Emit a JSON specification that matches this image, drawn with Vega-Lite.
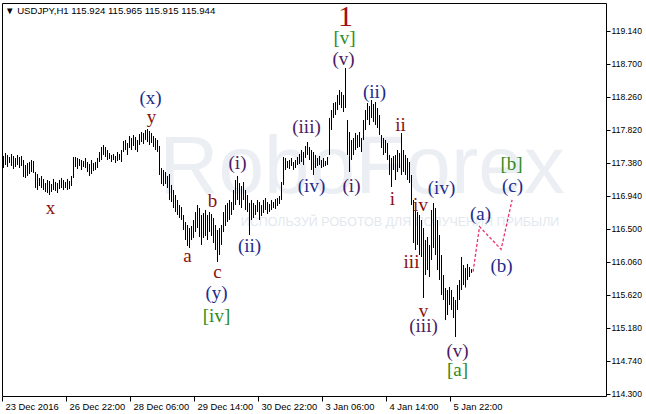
{
"$schema": "https://vega.github.io/schema/vega-lite/v6.json",
"width": 604, "height": 393,
"autosize": {"type": "none"},
"padding": {"left": 2, "top": 3, "right": 40, "bottom": 18},
"background": "white",
"config": {"view": {"stroke": "black", "strokeWidth": 1}},
"title": {"text": "▼ USDJPY,H1  115.924 115.965 115.915 115.944", "anchor": "start", "frame": "group", "orient": "top", "offset": -14, "baseline": "top", "dx": 3, "font": "Liberation Sans", "fontSize": 9.6, "fontWeight": "normal", "color": "black"},
"datasets": {
"bars": [
{"i":0,"h":117.473,"l":117.313},{"i":1,"h":117.513,"l":117.353},{"i":2,"h":117.487,"l":117.327},{"i":3,"h":117.460,"l":117.380},{"i":4,"h":117.500,"l":117.340},{"i":5,"h":117.473,"l":117.300},{"i":6,"h":117.447,"l":117.327},{"i":7,"h":117.487,"l":117.353},{"i":8,"h":117.460,"l":117.313},{"i":9,"h":117.473,"l":117.340},
{"i":10,"h":117.420,"l":117.193},{"i":11,"h":117.353,"l":117.180},{"i":12,"h":117.380,"l":117.207},{"i":13,"h":117.393,"l":117.233},{"i":14,"h":117.420,"l":117.260},{"i":15,"h":117.407,"l":117.247},{"i":16,"h":117.260,"l":117.047},{"i":17,"h":117.233,"l":117.020},{"i":18,"h":117.180,"l":117.073},{"i":19,"h":117.207,"l":117.047},
{"i":20,"h":117.167,"l":117.020},{"i":21,"h":117.113,"l":116.993},{"i":22,"h":117.153,"l":116.980},{"i":23,"h":117.140,"l":116.953},{"i":24,"h":117.100,"l":116.993},{"i":25,"h":117.167,"l":117.020},{"i":26,"h":117.127,"l":117.007},{"i":27,"h":117.113,"l":116.980},{"i":28,"h":117.153,"l":117.033},{"i":29,"h":117.180,"l":117.047},
{"i":30,"h":117.153,"l":117.020},{"i":31,"h":117.127,"l":117.047},{"i":32,"h":117.167,"l":117.020},{"i":33,"h":117.140,"l":117.033},{"i":34,"h":117.207,"l":117.073},{"i":35,"h":117.460,"l":117.180},{"i":36,"h":117.460,"l":117.327},{"i":37,"h":117.447,"l":117.300},{"i":38,"h":117.433,"l":117.340},{"i":39,"h":117.420,"l":117.287},
{"i":40,"h":117.407,"l":117.327},{"i":41,"h":117.447,"l":117.313},{"i":42,"h":117.393,"l":117.260},{"i":43,"h":117.367,"l":117.207},{"i":44,"h":117.420,"l":117.233},{"i":45,"h":117.380,"l":117.273},{"i":46,"h":117.393,"l":117.287},{"i":47,"h":117.447,"l":117.313},{"i":48,"h":117.527,"l":117.393},{"i":49,"h":117.593,"l":117.420},
{"i":50,"h":117.620,"l":117.487},{"i":51,"h":117.593,"l":117.460},{"i":52,"h":117.553,"l":117.420},{"i":53,"h":117.513,"l":117.433},{"i":54,"h":117.487,"l":117.393},{"i":55,"h":117.500,"l":117.420},{"i":56,"h":117.473,"l":117.380},{"i":57,"h":117.527,"l":117.407},{"i":58,"h":117.500,"l":117.420},{"i":59,"h":117.553,"l":117.393},
{"i":60,"h":117.673,"l":117.527},{"i":61,"h":117.687,"l":117.553},{"i":62,"h":117.647,"l":117.487},{"i":63,"h":117.740,"l":117.580},{"i":64,"h":117.713,"l":117.553},{"i":65,"h":117.753,"l":117.607},{"i":66,"h":117.727,"l":117.553},{"i":67,"h":117.687,"l":117.527},{"i":68,"h":117.767,"l":117.620},{"i":69,"h":117.793,"l":117.660},
{"i":70,"h":117.780,"l":117.633},{"i":71,"h":117.820,"l":117.687},{"i":72,"h":117.833,"l":117.660},{"i":73,"h":117.807,"l":117.620},{"i":74,"h":117.780,"l":117.647},{"i":75,"h":117.740,"l":117.593},{"i":76,"h":117.713,"l":117.553},{"i":77,"h":117.687,"l":117.527},{"i":78,"h":117.607,"l":117.220},{"i":79,"h":117.313,"l":117.100},
{"i":80,"h":117.287,"l":117.073},{"i":81,"h":117.260,"l":117.100},{"i":82,"h":117.207,"l":117.047},{"i":83,"h":117.233,"l":116.887},{"i":84,"h":117.087,"l":116.860},{"i":85,"h":117.020,"l":116.780},{"i":86,"h":116.953,"l":116.727},{"i":87,"h":116.887,"l":116.687},{"i":88,"h":116.820,"l":116.647},{"i":89,"h":116.793,"l":116.620},
{"i":90,"h":116.687,"l":116.487},{"i":91,"h":116.593,"l":116.353},{"i":92,"h":116.553,"l":116.273},{"i":93,"h":116.513,"l":116.247},{"i":94,"h":116.540,"l":116.353},{"i":95,"h":116.620,"l":116.380},{"i":96,"h":116.727,"l":116.460},{"i":97,"h":116.820,"l":116.513},{"i":98,"h":116.780,"l":116.393},{"i":99,"h":116.687,"l":116.287},
{"i":100,"h":116.713,"l":116.380},{"i":101,"h":116.753,"l":116.407},{"i":102,"h":116.687,"l":116.353},{"i":103,"h":116.727,"l":116.460},{"i":104,"h":116.700,"l":116.407},{"i":105,"h":116.647,"l":116.313},{"i":106,"h":116.553,"l":116.220},{"i":107,"h":116.487,"l":116.060},{"i":108,"h":116.513,"l":116.153},{"i":109,"h":116.553,"l":116.287},
{"i":110,"h":116.727,"l":116.460},{"i":111,"h":116.820,"l":116.540},{"i":112,"h":116.847,"l":116.593},{"i":113,"h":116.887,"l":116.620},{"i":114,"h":116.860,"l":116.687},{"i":115,"h":117.020,"l":116.753},{"i":116,"h":117.153,"l":116.820},{"i":117,"h":117.207,"l":116.887},{"i":118,"h":117.113,"l":116.820},{"i":119,"h":117.073,"l":116.780},
{"i":120,"h":117.127,"l":116.887},{"i":121,"h":117.020,"l":116.753},{"i":122,"h":116.953,"l":116.727},{"i":123,"h":116.847,"l":116.420},{"i":124,"h":116.887,"l":116.620},{"i":125,"h":116.847,"l":116.647},{"i":126,"h":116.820,"l":116.687},{"i":127,"h":116.887,"l":116.727},{"i":128,"h":116.860,"l":116.620},{"i":129,"h":116.820,"l":116.673},
{"i":130,"h":116.887,"l":116.713},{"i":131,"h":116.913,"l":116.753},{"i":132,"h":116.860,"l":116.700},{"i":133,"h":116.833,"l":116.727},{"i":134,"h":116.887,"l":116.753},{"i":135,"h":116.860,"l":116.780},{"i":136,"h":116.900,"l":116.767},{"i":137,"h":116.913,"l":116.807},{"i":138,"h":116.940,"l":116.833},{"i":139,"h":117.127,"l":116.887},
{"i":140,"h":117.460,"l":117.087},{"i":141,"h":117.447,"l":117.287},{"i":142,"h":117.407,"l":117.313},{"i":143,"h":117.420,"l":117.300},{"i":144,"h":117.447,"l":117.340},{"i":145,"h":117.393,"l":117.287},{"i":146,"h":117.420,"l":117.313},{"i":147,"h":117.460,"l":117.353},{"i":148,"h":117.500,"l":117.367},{"i":149,"h":117.553,"l":117.393},
{"i":150,"h":117.527,"l":117.353},{"i":151,"h":117.607,"l":117.447},{"i":152,"h":117.660,"l":117.487},{"i":153,"h":117.593,"l":117.420},{"i":154,"h":117.553,"l":117.287},{"i":155,"h":117.527,"l":117.220},{"i":156,"h":117.487,"l":117.313},{"i":157,"h":117.447,"l":117.340},{"i":158,"h":117.473,"l":117.353},{"i":159,"h":117.420,"l":117.313},
{"i":160,"h":117.447,"l":117.327},{"i":161,"h":117.407,"l":117.340},{"i":162,"h":117.460,"l":117.353},{"i":163,"h":117.980,"l":117.487},{"i":164,"h":118.087,"l":117.820},{"i":165,"h":118.180,"l":117.980},{"i":166,"h":118.193,"l":118.020},{"i":167,"h":118.287,"l":118.087},{"i":168,"h":118.353,"l":118.153},{"i":169,"h":118.327,"l":118.113},
{"i":170,"h":118.287,"l":118.060},{"i":171,"h":118.647,"l":118.113},{"i":172,"h":117.953,"l":117.487},{"i":173,"h":117.793,"l":117.260},{"i":174,"h":117.687,"l":117.420},{"i":175,"h":117.713,"l":117.487},{"i":176,"h":117.780,"l":117.553},{"i":177,"h":117.753,"l":117.580},{"i":178,"h":117.793,"l":117.593},{"i":179,"h":117.713,"l":117.527},
{"i":180,"h":117.953,"l":117.687},{"i":181,"h":118.087,"l":117.820},{"i":182,"h":118.180,"l":117.953},{"i":183,"h":118.140,"l":117.887},{"i":184,"h":118.220,"l":117.980},{"i":185,"h":118.167,"l":117.927},{"i":186,"h":118.193,"l":117.887},{"i":187,"h":118.113,"l":117.847},{"i":188,"h":118.020,"l":117.753},{"i":189,"h":117.753,"l":117.580},
{"i":190,"h":117.713,"l":117.487},{"i":191,"h":117.687,"l":117.513},{"i":192,"h":117.647,"l":117.420},{"i":193,"h":117.487,"l":117.220},{"i":194,"h":117.447,"l":117.060},{"i":195,"h":117.473,"l":117.287},{"i":196,"h":117.487,"l":117.153},{"i":197,"h":117.553,"l":117.260},{"i":198,"h":117.513,"l":117.313},{"i":199,"h":117.780,"l":117.220},
{"i":200,"h":117.553,"l":117.260},{"i":201,"h":117.487,"l":117.220},{"i":202,"h":117.447,"l":117.153},{"i":203,"h":117.393,"l":117.113},{"i":204,"h":117.220,"l":116.820},{"i":205,"h":116.887,"l":116.313},{"i":206,"h":116.753,"l":116.220},{"i":207,"h":116.727,"l":116.287},{"i":208,"h":116.687,"l":116.153},{"i":209,"h":116.620,"l":116.127},
{"i":210,"h":116.513,"l":115.580},{"i":211,"h":116.353,"l":115.887},{"i":212,"h":116.393,"l":115.953},{"i":213,"h":116.287,"l":115.860},{"i":214,"h":116.753,"l":116.087},{"i":215,"h":116.847,"l":116.247},{"i":216,"h":116.780,"l":116.153},{"i":217,"h":116.620,"l":115.953},{"i":218,"h":116.420,"l":115.820},{"i":219,"h":116.153,"l":115.620},
{"i":220,"h":115.887,"l":115.553},{"i":221,"h":115.713,"l":115.287},{"i":222,"h":115.687,"l":115.353},{"i":223,"h":115.727,"l":115.487},{"i":224,"h":115.687,"l":115.420},{"i":225,"h":115.593,"l":115.313},{"i":226,"h":115.553,"l":115.060},{"i":227,"h":115.753,"l":115.420},{"i":228,"h":115.820,"l":115.553},{"i":229,"h":116.127,"l":115.687},
{"i":230,"h":116.020,"l":115.753},{"i":231,"h":115.980,"l":115.720},{"i":232,"h":116.033,"l":115.820},{"i":233,"h":115.993,"l":115.860},{"i":234,"h":115.965,"l":115.915}
],
"labels": [
{"t":"x","i":23.5,"p":116.78,"k":"red"},
{"t":"(x)","i":73.5,"p":118.247,"k":"blue"},
{"t":"y","i":74,"p":117.993,"k":"red"},
{"t":"a","i":92,"p":116.14,"k":"red"},
{"t":"b","i":104.5,"p":116.873,"k":"red"},
{"t":"c","i":107,"p":115.927,"k":"red"},
{"t":"(y)","i":106.5,"p":115.647,"k":"blue"},
{"t":"[iv]","i":106.5,"p":115.34,"k":"green"},
{"t":"(i)","i":117,"p":117.38,"k":"purple"},
{"t":"(ii)","i":123,"p":116.273,"k":"blue"},
{"t":"(iii)","i":151.5,"p":117.86,"k":"purple"},
{"t":"(iv)","i":154,"p":117.073,"k":"blue"},
{"t":"[v]","i":170.5,"p":119.047,"k":"green"},
{"t":"(v)","i":170,"p":118.767,"k":"purple"},
{"t":"(i)","i":174,"p":117.073,"k":"purple"},
{"t":"(ii)","i":185.5,"p":118.327,"k":"blue"},
{"t":"ii","i":198.5,"p":117.887,"k":"red"},
{"t":"i","i":194.5,"p":116.9,"k":"red"},
{"t":"iv","i":208.5,"p":116.82,"k":"red"},
{"t":"(iv)","i":219,"p":117.047,"k":"blue"},
{"t":"iii","i":204,"p":116.06,"k":"red"},
{"t":"v","i":210,"p":115.407,"k":"red"},
{"t":"(iii)","i":210,"p":115.207,"k":"purple"},
{"t":"(v)","i":227,"p":114.873,"k":"purple"},
{"t":"[a]","i":227,"p":114.62,"k":"green"},
{"t":"(a)","i":238.5,"p":116.7,"k":"blue"},
{"t":"(b)","i":249,"p":116.007,"k":"blue"},
{"t":"[b]","i":254,"p":117.367,"k":"green"},
{"t":"(c)","i":254.5,"p":117.073,"k":"blue"}
],
"big": [{"t":"1","i":171,"p":119.327}],
"path": [
{"o":0,"i":234.8,"p":115.931},
{"o":1,"i":238,"p":116.531},
{"o":2,"i":248.8,"p":116.229},
{"o":3,"i":254.3,"p":116.887}
],
"wm": [
{"t":"RoboForex","i":179.25,"p":117.313,"s":"big"},
{"t":"ИСПОЛЬЗУЙ РОБОТОВ ДЛЯ ПОЛУЧЕНИЯ ПРИБЫЛИ","i":198.25,"p":116.593,"s":"small"}
],
"last": [{"p":115.944}]
},
"encoding": {
"x": {"field": "i", "type": "quantitative", "scale": {"domain": [-0.75, 301.25], "nice": false, "zero": false},
  "axis": {"orient": "bottom", "title": null, "grid": false, "domain": false, "values": [-0.75, 31.25, 63.25, 95.25, 127.25, 159.25, 191.25, 223.25],
   "labelExpr": "datum.value < 10 ? '23 Dec 2016' : datum.value < 40 ? '26 Dec 22:00' : datum.value < 70 ? '28 Dec 06:00' : datum.value < 100 ? '29 Dec 14:00' : datum.value < 130 ? '30 Dec 22:00' : datum.value < 170 ? '3 Jan 06:00' : datum.value < 200 ? '4 Jan 14:00' : '5 Jan 22:00'",
   "labelAlign": "left", "labelOffset": 3, "labelPadding": 1, "tickSize": 5, "tickColor": "black", "labelColor": "black", "labelFont": "Liberation Sans", "labelFontSize": 9.4, "labelBaseline": "top"}},
"y": {"field": "p", "type": "quantitative", "scale": {"domain": [114.2733, 119.5133], "nice": false, "zero": false},
  "axis": {"orient": "right", "title": null, "grid": false, "domain": false, "values": [114.3, 114.74, 115.18, 115.62, 116.06, 116.5, 116.94, 117.38, 117.82, 118.26, 118.7, 119.14],
   "format": ".3f", "tickSize": 4, "tickColor": "black", "labelColor": "black", "labelFont": "Liberation Sans", "labelFontSize": 8.6, "labelPadding": 1}}
},
"layer": [
{"data": {"name": "wm"}, "transform": [{"filter": "datum.s == 'big'"}], "mark": {"type": "text", "font": "Liberation Sans", "fontSize": 82, "color": "#ebeff4", "align": "center", "baseline": "middle", "clip": false}, "encoding": {"text": {"field": "t"}}},
{"data": {"name": "wm"}, "transform": [{"filter": "datum.s == 'small'"}], "mark": {"type": "text", "font": "Liberation Sans", "fontSize": 12.5, "color": "#e3e8ee", "align": "center", "baseline": "middle", "clip": false}, "encoding": {"text": {"field": "t"}}},
{"data": {"name": "bars"}, "mark": {"type": "rule", "color": "black", "strokeWidth": 1}, "encoding": {"y": {"field": "h", "type": "quantitative"}, "y2": {"field": "l"}}},
{"data": {"name": "path"}, "mark": {"type": "line", "color": "#e8336b", "strokeWidth": 1.3, "strokeDash": [3, 2], "clip": false}, "encoding": {"order": {"field": "o"}}},
{"data": {"name": "labels"}, "mark": {"type": "text", "font": "Liberation Serif", "fontSize": 19, "align": "center", "baseline": "middle", "clip": false},
  "encoding": {"text": {"field": "t"}, "color": {"field": "k", "type": "nominal", "legend": null, "scale": {"domain": ["red", "blue", "purple", "green"], "range": ["#8b1010", "#1e2c8c", "#4a1c64", "#2e8b20"]}}}},
{"data": {"name": "big"}, "mark": {"type": "text", "font": "Liberation Serif", "fontSize": 30, "align": "center", "baseline": "middle", "color": "#a01010", "clip": false}, "encoding": {"text": {"field": "t"}}},
{"data": {"name": "last"}, "mark": {"type": "rect", "color": "black", "clip": false}, "encoding": {"x": {"datum": 302}, "x2": {"datum": 321.5}, "y": {"datum": 116.02}, "y2": {"datum": 115.867}}},
{"data": {"name": "last"}, "mark": {"type": "text", "color": "white", "font": "Liberation Sans", "fontSize": 8.6, "align": "left", "baseline": "middle", "dx": 2, "clip": false}, "encoding": {"x": {"datum": 302}, "text": {"field": "p", "format": ".3f"}}}
]
}
